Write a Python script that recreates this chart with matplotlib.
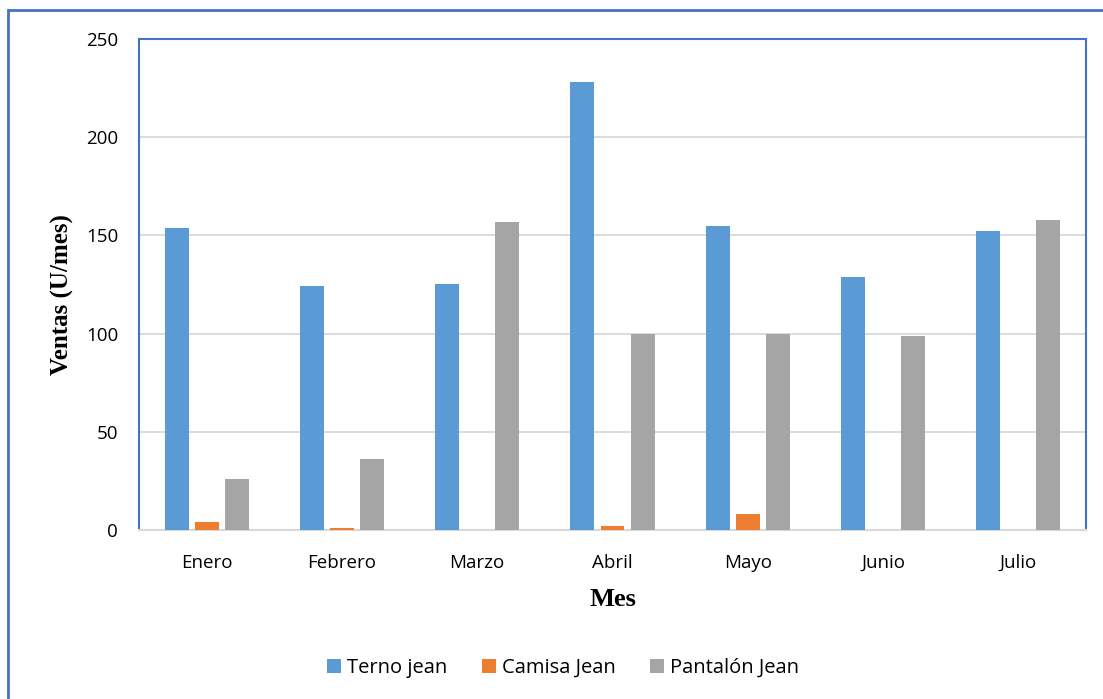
import matplotlib.pyplot as plt
import numpy as np
from matplotlib.patches import Rectangle

meses = ["Enero", "Febrero", "Marzo", "Abril", "Mayo", "Junio", "Julio"]
terno_jean = [154, 124, 125, 228, 155, 129, 152]
camisa_jean = [4, 1, 0, 2, 8, 0, 0]
pantalon_jean = [26, 36, 157, 100, 100, 99, 158]
y_ticks = [0, 50, 100, 150, 200, 250]

series = [
    ("Terno jean", terno_jean, "#5B9BD5"),
    ("Camisa Jean", camisa_jean, "#ED7D31"),
    ("Pantalón Jean", pantalon_jean, "#A5A5A5"),
]

fig = plt.figure(figsize=(11.03, 6.99), dpi=100)
ax = fig.add_axes([0.126, 0.2418, 0.8586, 0.7024])

# marco exterior del gráfico
fig.patches.append(Rectangle((8 / 1103, -0.1), 1.2, 1 - 10 / 699 + 0.1,
                             transform=fig.transFigure, fill=False,
                             edgecolor="#4472C4", linewidth=2.0))

x = np.arange(len(meses))
ancho = 0.177
paso = 0.222
for i, (nombre, valores, color) in enumerate(series):
    ax.bar(x + (i - 1) * paso, valores, width=ancho, color=color,
           linewidth=0, label=nombre, zorder=3)

ax.set_xlim(-0.5, len(meses) - 0.5)
ax.set_ylim(0, 250)
ax.set_yticks(y_ticks)
ax.set_xticks(x)
ax.set_xticklabels(meses)
ax.grid(axis="y", color="#D9D9D9", linewidth=1.3, zorder=0)

for lado in ["left", "top", "right"]:
    ax.spines[lado].set_color("#4472C4")
    ax.spines[lado].set_linewidth(1.5)
ax.spines["bottom"].set_color("#D9D9D9")
ax.spines["bottom"].set_linewidth(1.5)

ax.tick_params(axis="both", length=0, labelsize=13.5, labelcolor="#000000")
ax.tick_params(axis="y", pad=15)
ax.tick_params(axis="x", pad=17)
for lab in ax.get_xticklabels() + ax.get_yticklabels():
    lab.set_family("Open Sans")

ax.set_ylabel("Ventas (U/mes)", family="Liberation Serif", fontweight="bold",
              fontsize=18)
ax.yaxis.set_label_coords(-0.069, 0.479)
ax.set_xlabel("Mes", family="Liberation Serif", fontweight="bold",
              fontsize=19, labelpad=12)

fig.legend(loc="center", bbox_to_anchor=(563 / 1103, 1 - 668 / 699), ncol=3,
           frameon=False, prop={"family": "Open Sans", "size": 14.5},
           handlelength=0.7, handleheight=0.7, handletextpad=0.3,
           columnspacing=1.7)

fig.savefig("out.png", dpi=100)
